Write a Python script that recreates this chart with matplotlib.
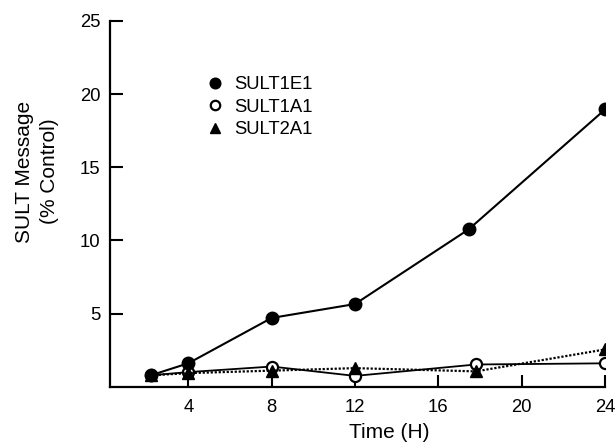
import numpy as np
import matplotlib.pyplot as plt

plt.rcParams['font.family'] = ['Liberation Sans', 'DejaVu Sans']

# hours
time_1e1 = [2.2, 4, 8, 12, 17.45, 24]
sult1e1 = [0.78, 1.6, 4.7, 5.65, 10.75, 18.95]

time_1a1 = [2.2, 4, 8, 12, 17.8, 24]
sult1a1 = [0.78, 1.0, 1.38, 0.74, 1.52, 1.6]

time_2a1 = [2.2, 4, 8, 12, 17.8, 24]
sult2a1 = [0.78, 0.93, 1.1, 1.27, 1.05, 2.55]

xticks = [4, 8, 12, 16, 20, 24]
yticks = [5, 10, 15, 20, 25]

fig = plt.figure(figsize=(6.15, 4.43), dpi=100)
ax = fig.add_axes([0.179, 0.127, 0.805, 0.826])

ax.plot(time_1a1, sult1a1, '-', color='k', lw=1.3, marker='o', ms=8,
        mfc='white', mec='k', mew=1.6, label='SULT1A1', zorder=3)
ax.plot(time_2a1, sult2a1, linestyle=(0, (1, 0.8)), color='k', lw=1.6,
        marker='^', ms=8.5, mfc='k', mec='k', label='SULT2A1', zorder=4)
ax.plot(time_1e1, sult1e1, '-', color='k', lw=1.5, marker='o', ms=9,
        mfc='k', mec='k', label='SULT1E1', zorder=5)

ax.set_xlim(0.25, 24)
ax.set_ylim(0, 25)
ax.set_xticks(xticks)
ax.set_yticks(yticks)
ax.tick_params(direction='in', length=9, width=1.5, labelsize=13.3)
ax.tick_params(axis='x', pad=9)
ax.tick_params(axis='y', pad=7)
for side in ['top', 'right']:
    ax.spines[side].set_visible(False)
for side in ['left', 'bottom']:
    ax.spines[side].set_linewidth(1.6)

fig.text(389 / 615, 1 - 433 / 443, 'Time (H)', fontsize=15,
         ha='center', va='center')
fig.text(37 / 615, 1 - 171.5 / 443, 'SULT Message\n(% Control)', fontsize=15,
         ha='center', va='center', rotation=90, linespacing=1.35)

h, l = ax.get_legend_handles_labels()
order = [2, 0, 1]
leg = ax.legend([h[i] for i in order], [l[i] for i in order],
                loc='upper left', bbox_to_anchor=(0.338, 0.845),
                bbox_transform=fig.transFigure, frameon=False,
                fontsize=13.3, handlelength=0, handletextpad=1.05,
                labelspacing=0.3, borderaxespad=0, markerscale=0.85)

fig.savefig('out.png', dpi=100)
